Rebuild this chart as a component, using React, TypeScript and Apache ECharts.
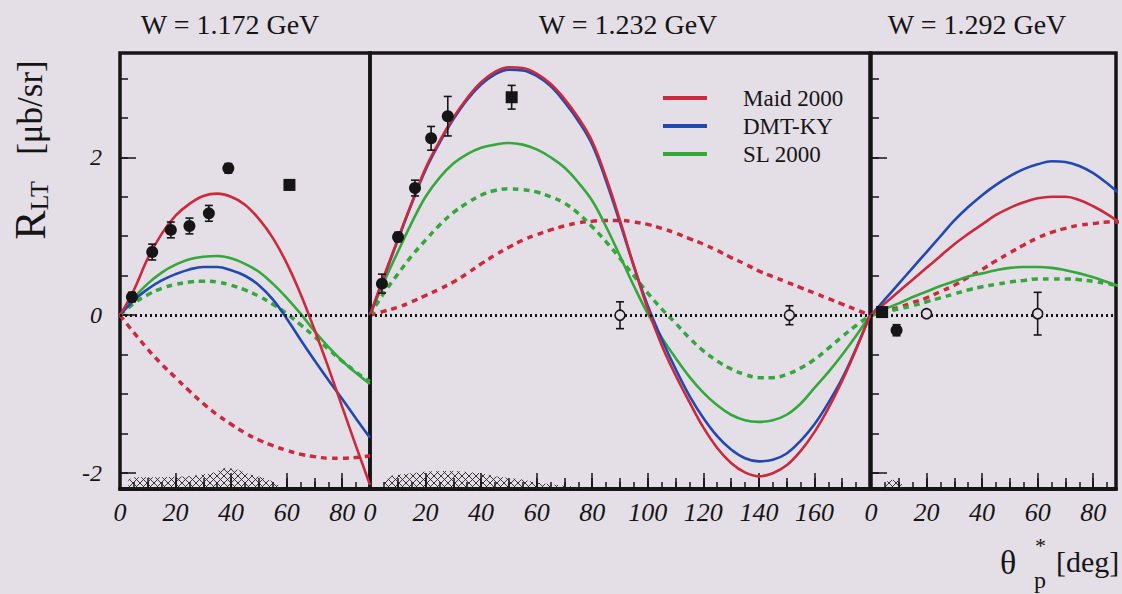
import React, { useEffect, useRef } from 'react';
import * as echarts from 'echarts';

// ---------- data ----------
const TITLES = ['W = 1.172 GeV', 'W = 1.232 GeV', 'W = 1.292 GeV'];
const LEGEND = ['Maid 2000', 'DMT-KY', 'SL 2000'];

// Panel 1 : W = 1.172 GeV
const P1_X = [0, 5, 10, 15, 20, 25, 30, 35, 40, 45, 50, 55, 60, 65, 70, 75, 80, 85, 90];
const P1_MAID = [0, 0.32, 0.72, 1.03, 1.26, 1.41, 1.51, 1.54, 1.5, 1.4, 1.22, 0.98, 0.66, 0.27, -0.18, -0.66, -1.16, -1.66, -2.15];
const P1_MAID_D = [0, -0.22, -0.43, -0.62, -0.79, -0.96, -1.12, -1.26, -1.38, -1.49, -1.58, -1.65, -1.71, -1.76, -1.79, -1.81, -1.81, -1.8, -1.78];
const P1_DMT = [0, 0.19, 0.33, 0.44, 0.52, 0.58, 0.61, 0.61, 0.57, 0.5, 0.38, 0.2, -0.04, -0.31, -0.57, -0.82, -1.06, -1.31, -1.55];
const P1_SL = [0, 0.22, 0.4, 0.54, 0.64, 0.71, 0.74, 0.75, 0.72, 0.65, 0.55, 0.4, 0.22, 0.02, -0.2, -0.4, -0.58, -0.73, -0.87];
const P1_SL_D = [0, 0.15, 0.26, 0.34, 0.39, 0.42, 0.43, 0.42, 0.38, 0.32, 0.24, 0.14, 0.02, -0.12, -0.27, -0.43, -0.58, -0.72, -0.84];
const P1_SYS = [[3, -2.08], [5, -2.05], [15, -2.05], [25, -2.04], [33, -2.0], [38, -1.93], [42, -1.95], [47, -2.02], [52, -2.06], [56, -2.12], [58, -2.17]];
const P1_FILLED = [[4.3, 0.23, 0.06], [11.6, 0.8, 0.1], [18.3, 1.08, 0.1], [25, 1.13, 0.1], [32, 1.29, 0.1], [39, 1.86, 0.06]];
const P1_SQUARE = [[61, 1.65, 0.06]];
const P1_OPEN: number[][] = [];

// Panel 2 : W = 1.232 GeV
const P2_X = [0, 5, 10, 15, 20, 25, 30, 35, 40, 45, 50, 55, 60, 65, 70, 75, 80, 85, 90, 95, 100, 105, 110, 115, 120, 125, 130, 135, 140, 145, 150, 155, 160, 165, 170, 175, 180];
const P2_MAID = [0, 0.49, 0.96, 1.42, 1.86, 2.2, 2.5, 2.75, 2.95, 3.08, 3.14, 3.13, 3.06, 2.93, 2.74, 2.5, 2.2, 1.74, 1.2, 0.62, 0.08, -0.38, -0.76, -1.1, -1.42, -1.68, -1.87, -1.99, -2.04, -2.0, -1.9, -1.72, -1.48, -1.18, -0.83, -0.43, 0];
const P2_MAID_D = [0, 0.05, 0.1, 0.17, 0.25, 0.33, 0.42, 0.53, 0.65, 0.76, 0.86, 0.95, 1.02, 1.08, 1.13, 1.17, 1.19, 1.2, 1.2, 1.18, 1.15, 1.1, 1.04, 0.97, 0.9, 0.82, 0.73, 0.65, 0.56, 0.49, 0.42, 0.35, 0.28, 0.21, 0.14, 0.07, 0];
const P2_DMT = [0, 0.48, 0.95, 1.41, 1.84, 2.18, 2.48, 2.73, 2.92, 3.05, 3.11, 3.1, 3.03, 2.9, 2.7, 2.46, 2.16, 1.7, 1.17, 0.62, 0.12, -0.3, -0.68, -1.02, -1.3, -1.53, -1.7, -1.81, -1.85, -1.83, -1.75, -1.59, -1.38, -1.11, -0.8, -0.42, 0];
const P2_SL = [0, 0.42, 0.8, 1.17, 1.5, 1.74, 1.92, 2.04, 2.12, 2.16, 2.18, 2.16, 2.1, 2.0, 1.87, 1.68, 1.45, 1.12, 0.75, 0.37, 0.02, -0.28, -0.54, -0.78, -0.98, -1.14, -1.26, -1.33, -1.35, -1.33, -1.26, -1.12, -0.92, -0.72, -0.5, -0.26, 0];
const P2_SL_D = [0, 0.28, 0.52, 0.75, 0.95, 1.14, 1.3, 1.42, 1.52, 1.58, 1.6, 1.59, 1.56, 1.5, 1.42, 1.29, 1.12, 0.93, 0.72, 0.5, 0.28, 0.08, -0.1, -0.29, -0.45, -0.58, -0.68, -0.75, -0.79, -0.79, -0.75, -0.67, -0.56, -0.42, -0.27, -0.13, 0];
const P2_SYS = [[5, -2.1], [8, -2.03], [15, -2.0], [20, -1.98], [30, -1.97], [40, -2.0], [45, -2.04], [50, -2.06], [55, -2.08], [60, -2.12], [70, -2.16], [77, -2.18]];
const P2_FILLED = [[4.3, 0.4, 0.12], [10.1, 0.99, 0.06], [16.2, 1.61, 0.1], [22, 2.24, 0.15], [28, 2.52, 0.25]];
const P2_SQUARE = [[51, 2.76, 0.15]];
const P2_OPEN = [[90, 0.0, 0.17], [151, 0.0, 0.12]];

// Panel 3 : W = 1.292 GeV
const P3_X = [0, 5, 10, 15, 20, 25, 30, 35, 40, 45, 50, 55, 60, 65, 70, 75, 80, 85, 90];
const P3_MAID = [0, 0.15, 0.3, 0.45, 0.6, 0.75, 0.9, 1.03, 1.15, 1.27, 1.36, 1.43, 1.48, 1.5, 1.5, 1.46, 1.38, 1.28, 1.16];
const P3_MAID_D = [0, 0.05, 0.1, 0.16, 0.22, 0.3, 0.38, 0.48, 0.58, 0.69, 0.79, 0.89, 0.98, 1.05, 1.1, 1.14, 1.16, 1.18, 1.18];
const P3_DMT = [0, 0.2, 0.4, 0.6, 0.8, 1.0, 1.2, 1.37, 1.52, 1.65, 1.76, 1.85, 1.91, 1.95, 1.94, 1.89, 1.8, 1.67, 1.52];
const P3_SL = [0, 0.08, 0.15, 0.23, 0.3, 0.37, 0.43, 0.49, 0.53, 0.57, 0.6, 0.61, 0.61, 0.6, 0.57, 0.53, 0.48, 0.42, 0.36];
const P3_SL_D = [0, 0.04, 0.08, 0.12, 0.17, 0.22, 0.27, 0.32, 0.36, 0.39, 0.42, 0.44, 0.46, 0.46, 0.46, 0.45, 0.43, 0.4, 0.37];
const P3_SYS = [[5, -2.12], [7, -2.08], [10, -2.1], [12, -2.17]];
const P3_FILLED = [[9.2, -0.19, 0.07]];
const P3_SQUARE = [[4, 0.04, 0.05]];
const P3_OPEN = [[20, 0.02, 0.04], [60, 0.02, 0.27]];

// Axis ticks / labels
const X_LABELS_1 = [0, 20, 40, 60, 80];
const X_LABELS_2 = [0, 20, 40, 60, 80, 100, 120, 140, 160];
const X_LABELS_3 = [0, 20, 40, 60, 80];
const Y_LABELS = [-2, 0, 2];
const Y_MIN = -2.2;
const Y_MAX = 3.32;

// ---------- styles ----------
const RED = '#cc2a3c';
const BLUE = '#2149b0';
const GREEN = '#34a83c';
const INK = '#151515';
const BG = '#e4dee6';
const SERIF = '"Liberation Serif", "DejaVu Serif", serif';

function steps(from: number, to: number, step: number) {
  const out: number[] = [];
  const n = Math.round((to - from) / step);
  for (let i = 0; i <= n; i++) out.push(Math.round((from + i * step) * 1000) / 1000);
  return out;
}
function pairs(xs: number[], ys: number[]) {
  return xs.map((x, i) => [x, ys[i]]);
}

const PANELS = [
  { left: 120, width: 250, max: 90, labels: X_LABELS_1, x: P1_X, maid: P1_MAID, maidD: P1_MAID_D, dmt: P1_DMT, sl: P1_SL, slD: P1_SL_D, sys: P1_SYS, filled: P1_FILLED, square: P1_SQUARE, open: P1_OPEN, yTicks: true, yLabels: true, titleX: 230 },
  { left: 370, width: 500, max: 180, labels: X_LABELS_2, x: P2_X, maid: P2_MAID, maidD: P2_MAID_D, dmt: P2_DMT, sl: P2_SL, slD: P2_SL_D, sys: P2_SYS, filled: P2_FILLED, square: P2_SQUARE, open: P2_OPEN, yTicks: false, yLabels: false, titleX: 628 },
  { left: 871, width: 245, max: 88.2, labels: X_LABELS_3, x: P3_X, maid: P3_MAID, maidD: P3_MAID_D, dmt: P3_DMT, sl: P3_SL, slD: P3_SL_D, sys: P3_SYS, filled: P3_FILLED, square: P3_SQUARE, open: P3_OPEN, yTicks: true, yLabels: false, titleX: 977 },
];

function errorBarRender(params: any, api: any) {
  const x = api.value(0);
  const y = api.value(1);
  const e = api.value(2);
  const top = api.coord([x, y + e]);
  const bot = api.coord([x, y - e]);
  const w = 4;
  const st = { stroke: INK, lineWidth: 1.6 };
  return {
    type: 'group',
    children: [
      { type: 'line', shape: { x1: top[0], y1: top[1], x2: bot[0], y2: bot[1] }, style: st },
      { type: 'line', shape: { x1: top[0] - w, y1: top[1], x2: top[0] + w, y2: top[1] }, style: st },
      { type: 'line', shape: { x1: bot[0] - w, y1: bot[1], x2: bot[0] + w, y2: bot[1] }, style: st },
    ],
  };
}

export default function App() {
  const ref = useRef<HTMLDivElement>(null);

  useEffect(() => {
    document.body.style.margin = '0';
    document.body.style.background = BG;
    if (!ref.current) return;
    const chart = echarts.init(ref.current, null, { renderer: 'svg' });

    const c = document.createElement('canvas');
    c.width = 7;
    c.height = 7;
    const ctx = c.getContext('2d');
    if (ctx) {
      ctx.strokeStyle = '#222';
      ctx.lineWidth = 0.9;
      ctx.beginPath();
      ctx.moveTo(0, 0);
      ctx.lineTo(7, 7);
      ctx.moveTo(7, 0);
      ctx.lineTo(0, 7);
      ctx.stroke();
    }
    const hatch: any = { image: c, repeat: 'repeat', imageWidth: 7, imageHeight: 7 };

    const grid: any[] = [];
    const xAxis: any[] = [];
    const yAxis: any[] = [];
    const series: any[] = [];

    PANELS.forEach((p, g) => {
      grid.push({ left: p.left, top: 53, width: p.width, height: 436, show: true, borderColor: INK, borderWidth: 3.5, backgroundColor: 'transparent' });
      const tiers = [
        { ticks: p.labels, len: 16, main: true },
        { ticks: steps(0, p.max - 0.01, 10), len: 11, main: false },
        { ticks: steps(0, p.max - 0.01, 5), len: 7, main: false },
      ];
      tiers.forEach((t) => {
        xAxis.push({
          gridIndex: g, type: 'value', min: 0, max: p.max, position: 'bottom',
          axisLine: { show: t.main, onZero: false, lineStyle: { color: INK, width: 4 } },
          axisTick: { show: true, inside: true, length: t.len, customValues: t.ticks, lineStyle: { color: INK, width: 1.5 } },
          axisLabel: {
            show: t.main, customValues: p.labels, margin: 10, fontFamily: SERIF, fontStyle: 'italic',
            fontSize: 26, color: INK, formatter: (v: number) => String(v),
          },
          splitLine: { show: false },
        });
      });
      const yTiers = [
        { ticks: Y_LABELS, len: 16, main: true },
        { ticks: steps(-2, 3, 0.5), len: 8, main: false },
      ];
      yTiers.forEach((t) => {
        yAxis.push({
          gridIndex: g, type: 'value', min: Y_MIN, max: Y_MAX, position: 'left',
          axisLine: { show: false, onZero: false },
          axisTick: { show: p.yTicks, inside: true, length: t.len, customValues: t.ticks, lineStyle: { color: INK, width: 1.5 } },
          axisLabel: {
            show: p.yLabels && t.main, customValues: Y_LABELS, margin: 18, fontFamily: SERIF, fontStyle: 'italic',
            fontSize: 24, color: INK, formatter: (v: number) => String(v),
          },
          splitLine: { show: false },
        });
      });
      const xi = g * 3;
      const yi = g * 2;
      const base = { xAxisIndex: xi, yAxisIndex: yi, showSymbol: false, smooth: 0.4, silent: true };
      series.push({
        ...base, type: 'line', name: 'sys' + g, data: p.sys, smooth: false,
        lineStyle: { width: 0 }, areaStyle: { origin: 'start', color: hatch, opacity: 1 }, z: 1,
      });
      series.push({ ...base, type: 'line', name: 'Maid 2000 dashed', data: pairs(p.x, p.maidD), color: RED, lineStyle: { color: RED, width: 3.5, type: [6, 5] }, z: 2 });
      series.push({ ...base, type: 'line', name: 'SL 2000 dashed', data: pairs(p.x, p.slD), color: GREEN, lineStyle: { color: GREEN, width: 3.5, type: [6, 5] }, z: 2 });
      series.push({ ...base, type: 'line', name: 'SL 2000', data: pairs(p.x, p.sl), color: GREEN, lineStyle: { color: GREEN, width: 2.6 }, z: 3 });
      series.push({ ...base, type: 'line', name: 'DMT-KY', data: pairs(p.x, p.dmt), color: BLUE, lineStyle: { color: BLUE, width: 2.6 }, z: 3 });
      series.push({
        ...base, type: 'line', name: 'Maid 2000', data: pairs(p.x, p.maid), color: RED, lineStyle: { color: RED, width: 2.6 }, z: 3,
        markLine: {
          silent: true, symbol: ['none', 'none'], label: { show: false },
          lineStyle: { type: [2, 3], width: 3, color: INK }, data: [{ yAxis: 0 }],
        },
      });
      const errPts = [...p.filled, ...p.square, ...p.open];
      series.push({ type: 'custom', xAxisIndex: xi, yAxisIndex: yi, data: errPts, encode: { x: 0, y: 1 }, renderItem: errorBarRender, silent: true, z: 5 });
      series.push({ type: 'scatter', xAxisIndex: xi, yAxisIndex: yi, data: p.filled, symbol: 'circle', symbolSize: 12, itemStyle: { color: INK, opacity: 1 }, silent: true, z: 6 });
      series.push({ type: 'scatter', xAxisIndex: xi, yAxisIndex: yi, data: p.square, symbol: 'rect', symbolSize: 12, itemStyle: { color: INK, opacity: 1 }, silent: true, z: 6 });
      series.push({ type: 'scatter', xAxisIndex: xi, yAxisIndex: yi, data: p.open, symbol: 'circle', symbolSize: 10, itemStyle: { color: BG, borderColor: INK, borderWidth: 1.6, opacity: 1 }, silent: true, z: 6 });
    });

    const graphic: any[] = PANELS.map((p, g) => ({
      type: 'text', x: p.titleX, y: 24,
      style: { text: TITLES[g], fontFamily: SERIF, fontSize: 28, fill: INK, align: 'center', verticalAlign: 'middle' },
    }));
    graphic.push({
      type: 'text', x: 30, y: 150, rotation: Math.PI / 2,
      style: {
        text: '{r|R}{s|LT}{u|   [μb/sr]}', align: 'center', verticalAlign: 'middle', fill: INK,
        rich: {
          r: { fontFamily: SERIF, fontSize: 44, fill: INK, lineHeight: 44 },
          s: { fontFamily: SERIF, fontSize: 26, fill: INK, verticalAlign: 'bottom', lineHeight: 44 },
          u: { fontFamily: SERIF, fontSize: 35, fill: INK, lineHeight: 44 },
        },
      },
    });
    graphic.push({ type: 'text', x: 1000, y: 562, style: { text: 'θ', fontFamily: SERIF, fontSize: 34, fill: INK, align: 'left', verticalAlign: 'middle' } });
    graphic.push({ type: 'text', x: 1035, y: 545, style: { text: '*', fontFamily: SERIF, fontSize: 22, fill: INK, align: 'left', verticalAlign: 'middle' } });
    graphic.push({ type: 'text', x: 1034, y: 580, style: { text: 'p', fontFamily: SERIF, fontSize: 24, fill: INK, align: 'left', verticalAlign: 'middle' } });
    graphic.push({ type: 'text', x: 1056, y: 561, style: { text: '[deg]', fontFamily: SERIF, fontSize: 30, fill: INK, align: 'left', verticalAlign: 'middle' } });

    chart.setOption({
      animation: false,
      backgroundColor: BG,
      grid,
      xAxis,
      yAxis,
      series,
      graphic,
      legend: {
        data: LEGEND, left: 658, top: 81, orient: 'vertical', icon: 'rect', itemWidth: 44, itemHeight: 4, itemGap: 4,
        selectedMode: false,
        textStyle: { fontFamily: SERIF, fontSize: 23, color: INK, lineHeight: 24, padding: [0, 0, 0, 31] },
      },
    });
    return () => chart.dispose();
  }, []);

  return <div ref={ref} style={{ position: 'fixed', left: 0, top: 0, width: 1122, height: 594, background: BG }} />;
}
